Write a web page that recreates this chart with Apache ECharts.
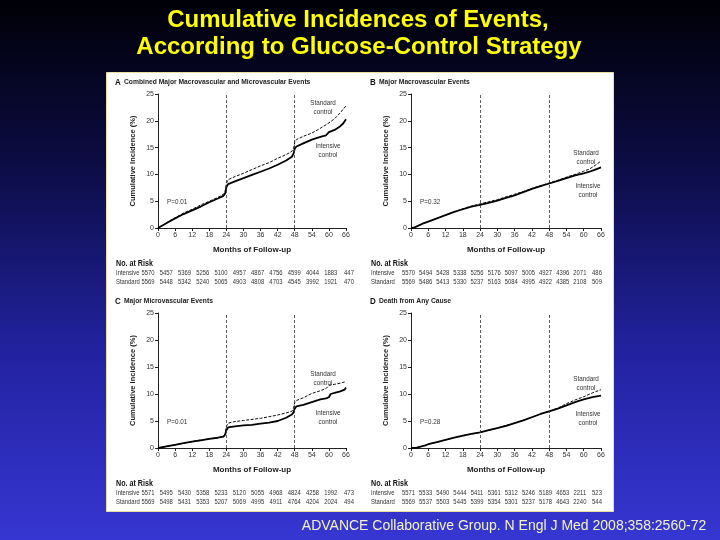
<!DOCTYPE html>
<html><head><meta charset="utf-8">
<script src="https://cdn.jsdelivr.net/npm/echarts@6/dist/echarts.min.js"></script>
<style>html,body{margin:0;padding:0;}#c{width:720px;height:540px;}</style>
</head><body><div id="c"></div>
<script>
// ---- data ----
const monthTicks = [0,6,12,18,24,30,36,42,48,54,60,66];
const panelTitles = ['Combined Major Macrovascular and Microvascular Events','Major Macrovascular Events','Major Microvascular Events','Death from Any Cause'];
const panelLetters = ['A','B','C','D'];
const pValues = ['P=0.01','P=0.32','P=0.01','P=0.28'];

const aStandard = [[0,0],[2,0.6],[4,1.3],[6,1.9],[9,2.8],[12,3.5],[15,4.3],[18,5.0],[21,5.7],[23,6.3],[23.6,6.8],[24,8.3],[24.6,9.0],[27,9.6],[30,10.2],[33,10.9],[36,11.6],[39,12.2],[42,13.0],[45,13.7],[47,14.3],[47.6,14.9],[48,16.0],[48.6,16.5],[51,17.1],[54,17.7],[57,18.6],[60,19.6],[62,20.4],[64,21.5],[66,22.8]];
const aIntensive = [[0,0],[2,0.6],[4,1.2],[6,1.8],[9,2.6],[12,3.3],[15,4.0],[18,4.8],[21,5.5],[23,6.0],[23.6,6.5],[24,7.6],[24.6,8.2],[27,8.7],[30,9.3],[33,9.9],[36,10.5],[39,11.1],[42,11.8],[45,12.6],[47,13.3],[47.6,13.9],[48,14.8],[48.6,15.2],[51,15.8],[54,16.5],[57,17.0],[59,17.3],[60,17.9],[62,18.3],[64,19.0],[65,19.5],[66,20.3]];
const bStandard = [[0,0],[1,0.05],[2,0.3],[4,0.8],[6,1.2],[9,1.8],[12,2.4],[15,3.0],[18,3.6],[21,4.1],[24,4.5],[27,4.9],[30,5.3],[33,5.8],[36,6.3],[39,6.8],[42,7.4],[45,7.9],[48,8.4],[51,8.9],[54,9.5],[57,10.0],[60,10.6],[62,11.0],[64,11.7],[66,12.5]];
const bIntensive = [[0,0],[1,0.05],[2,0.3],[4,0.8],[6,1.2],[9,1.8],[12,2.4],[15,3.0],[18,3.5],[21,4.0],[24,4.3],[27,4.7],[30,5.1],[33,5.6],[36,6.1],[39,6.7],[42,7.3],[45,7.8],[48,8.3],[51,8.8],[54,9.3],[57,9.8],[60,10.2],[62,10.5],[64,10.9],[66,11.3]];
const cStandard = [[0,0],[3,0.3],[6,0.6],[9,0.9],[12,1.2],[15,1.5],[18,1.7],[21,1.9],[23,2.2],[23.6,2.7],[24,4.0],[24.6,4.6],[27,4.9],[30,5.1],[33,5.3],[36,5.5],[39,5.8],[42,6.1],[45,6.5],[47,6.8],[47.6,7.4],[48,8.4],[48.6,8.8],[51,9.3],[54,10.1],[57,10.6],[59,11.0],[60,11.6],[62,11.8],[64,12.0],[66,12.3]];
const cIntensive = [[0,0],[3,0.3],[6,0.6],[9,0.9],[12,1.2],[15,1.4],[18,1.7],[21,1.9],[23,2.1],[23.6,2.5],[24,3.3],[24.6,3.8],[27,4.0],[30,4.2],[33,4.3],[36,4.5],[39,4.7],[42,5.0],[45,5.6],[47,6.2],[47.6,6.6],[48,7.3],[48.6,7.7],[51,8.0],[54,8.5],[57,9.0],[59,9.2],[60,9.4],[60.6,10.0],[62,10.2],[64,10.5],[65.5,10.8],[66,11.2]];
const dStandard = [[0,0],[2,0.05],[3,0.2],[5,0.5],[6,0.7],[9,1.1],[12,1.5],[15,1.9],[18,2.2],[21,2.6],[24,2.9],[27,3.3],[30,3.7],[33,4.2],[36,4.6],[39,5.1],[42,5.7],[45,6.3],[48,6.8],[51,7.4],[54,8.2],[57,8.9],[60,9.5],[63,10.2],[66,10.8]];
const dIntensive = [[0,0],[2,0.05],[3,0.2],[5,0.5],[6,0.7],[9,1.1],[12,1.5],[15,1.9],[18,2.3],[21,2.6],[24,2.9],[27,3.3],[30,3.7],[33,4.1],[36,4.6],[39,5.1],[42,5.7],[45,6.3],[48,6.8],[51,7.3],[54,7.9],[57,8.5],[60,9.0],[63,9.4],[66,9.7]];

const aRiskIntensive = [5570,5457,5369,5256,5100,4957,4867,4756,4599,4044,1883,447];
const aRiskStandard  = [5569,5448,5342,5240,5065,4903,4808,4703,4545,3992,1921,470];
const bRiskIntensive = [5570,5494,5428,5338,5256,5176,5097,5005,4927,4396,2071,486];
const bRiskStandard  = [5569,5486,5413,5330,5237,5163,5084,4995,4922,4385,2108,509];
const cRiskIntensive = [5571,5495,5430,5358,5233,5120,5055,4968,4824,4258,1992,473];
const cRiskStandard  = [5569,5498,5431,5353,5207,5069,4995,4911,4764,4204,2024,494];
const dRiskIntensive = [5571,5533,5490,5444,5411,5361,5312,5246,5189,4653,2211,523];
const dRiskStandard  = [5569,5537,5503,5445,5399,5354,5301,5237,5178,4643,2240,544];

// ---- layout ----
const chart = echarts.init(document.getElementById('c'));
const FONT = "'Liberation Sans',Arial,sans-serif";
const NX = 0.84; // horizontal squeeze to mimic the condensed journal font
const panels = [
  {left:158, top:94, w:188, h:134, std:aStandard, int:aIntensive, ri:aRiskIntensive, rs:aRiskStandard, r0:148, r1:349, lab0:116,
   stdLab:[323,99], intLab:[328,142]},
  {left:411, top:94, w:190, h:134, std:bStandard, int:bIntensive, ri:bRiskIntensive, rs:bRiskStandard, r0:408.5, r1:597, lab0:371,
   stdLab:[586,149], intLab:[588,182]},
  {left:158, top:313, w:188, h:135, std:cStandard, int:cIntensive, ri:cRiskIntensive, rs:cRiskStandard, r0:148, r1:349, lab0:116,
   stdLab:[323,370], intLab:[328,409]},
  {left:411, top:313, w:190, h:135, std:dStandard, int:dIntensive, ri:dRiskIntensive, rs:dRiskStandard, r0:408.5, r1:597, lab0:371,
   stdLab:[586,375], intLab:[588,410]}
];

function txt(x,y,text,font,fill,align,vAlign,extra){
  return Object.assign({type:'text', x:x, y:y, scaleX:NX, silent:true,
    style:{text:text, font:font, fill:fill, align:align||'left', verticalAlign:vAlign||'middle'}}, extra||{});
}

const grid=[], xAxis=[], yAxis=[], series=[];
const graphic = [
  {type:'rect', z:-100, silent:true, shape:{x:0,y:0,width:720,height:540},
   style:{fill:{type:'linear',x:0,y:0,x2:0,y2:1,colorStops:[{offset:0,color:'#000006'},{offset:0.3,color:'#0c0c44'},{offset:0.65,color:'#2222a0'},{offset:1,color:'#3636d2'}]}}},
  {type:'rect', z:-90, silent:true, shape:{x:106.5,y:72.5,width:507,height:439}, style:{fill:'#ffffff', stroke:'#e6dfa0', lineWidth:1}},
  {type:'text', x:358, y:20, silent:true, style:{text:'Cumulative Incidences of Events,', fill:'#ffff00', font:"bold 24px 'Liberation Sans',Arial,sans-serif", align:'center', verticalAlign:'middle'}},
  {type:'text', x:359, y:47, silent:true, style:{text:'According to Glucose-Control Strategy', fill:'#ffff00', font:"bold 24px 'Liberation Sans',Arial,sans-serif", align:'center', verticalAlign:'middle'}},
  {type:'text', x:504, y:526, silent:true, style:{text:'ADVANCE Collaborative Group. N Engl J Med 2008;358:2560-72', fill:'#f4f4c8', font:"14px 'Liberation Sans',Arial,sans-serif", align:'center', verticalAlign:'middle'}}
];

panels.forEach((p,i)=>{
  grid.push({left:p.left, top:p.top, width:p.w, height:p.h});
  xAxis.push({type:'value', gridIndex:i, min:0, max:66, interval:6,
    name:'Months of Follow-up', nameLocation:'middle', nameGap:18,
    nameTextStyle:{fontFamily:FONT, fontWeight:'bold', fontSize:8, color:'#222'},
    axisLine:{lineStyle:{color:'#222', width:1}}, axisTick:{length:3, lineStyle:{color:'#222'}},
    axisLabel:{fontFamily:FONT, fontSize:7, color:'#333', margin:4}, splitLine:{show:false}});
  yAxis.push({type:'value', gridIndex:i, min:0, max:25, interval:5,
    name:'Cumulative Incidence (%)', nameLocation:'middle', nameGap:21, nameRotate:90,
    nameTextStyle:{fontFamily:FONT, fontWeight:'bold', fontSize:7.5, color:'#222'},
    axisLine:{show:true, lineStyle:{color:'#222', width:1}}, axisTick:{show:true, length:3, lineStyle:{color:'#222'}},
    axisLabel:{fontFamily:FONT, fontSize:7, color:'#333', margin:4}, splitLine:{show:false}});
  series.push({type:'line', xAxisIndex:i, yAxisIndex:i, data:p.std, symbol:'none', silent:true,
    lineStyle:{color:'#111', width:1, type:[3,1.5]},
    markLine:{silent:true, symbol:'none', label:{show:false},
      lineStyle:{color:'#333', width:0.8, type:[3,2]},
      data:[[{coord:[24,0]},{coord:[24,25]}],[{coord:[48,0]},{coord:[48,25]}]]}});
  series.push({type:'line', xAxisIndex:i, yAxisIndex:i, data:p.int, symbol:'none', silent:true,
    lineStyle:{color:'#000', width:1.8}});
  graphic.push(txt(p.lab0-1, p.top-12, panelLetters[i], "bold 9.5px "+FONT, '#111'));
  graphic.push(txt(p.lab0+8, p.top-12, panelTitles[i], "bold 8px "+FONT, '#222'));
  graphic.push(txt(p.left+9, p.top+p.h-26, pValues[i], "7.5px "+FONT, '#333'));
  graphic.push(txt(p.stdLab[0], p.stdLab[1], 'Standard\ncontrol', "7.5px "+FONT, '#333', 'center', 'top', {style:{text:'Standard\ncontrol', font:"7.5px "+FONT, fill:'#333', align:'center', verticalAlign:'top', lineHeight:8.5}}));
  graphic.push(txt(p.intLab[0], p.intLab[1], 'Intensive\ncontrol', "7.5px "+FONT, '#333', 'center', 'top', {style:{text:'Intensive\ncontrol', font:"7.5px "+FONT, fill:'#333', align:'center', verticalAlign:'top', lineHeight:8.5}}));
  const yRisk = p.top + p.h + 36;
  graphic.push(txt(p.lab0, yRisk, 'No. at Risk', "bold 8.5px "+FONT, '#111'));
  graphic.push(txt(p.lab0, yRisk+9, 'Intensive', "7px "+FONT, '#333'));
  graphic.push(txt(p.lab0, yRisk+18, 'Standard', "7px "+FONT, '#333'));
  const step = (p.r1-p.r0)/(monthTicks.length-1);
  p.ri.forEach((v,k)=>graphic.push(txt(p.r0+k*step, yRisk+9, String(v), "7px "+FONT, '#333', 'center')));
  p.rs.forEach((v,k)=>graphic.push(txt(p.r0+k*step, yRisk+18, String(v), "7px "+FONT, '#333', 'center')));
});

chart.setOption({animation:false, backgroundColor:'#000', grid, xAxis, yAxis, series, graphic});
</script></body></html>
